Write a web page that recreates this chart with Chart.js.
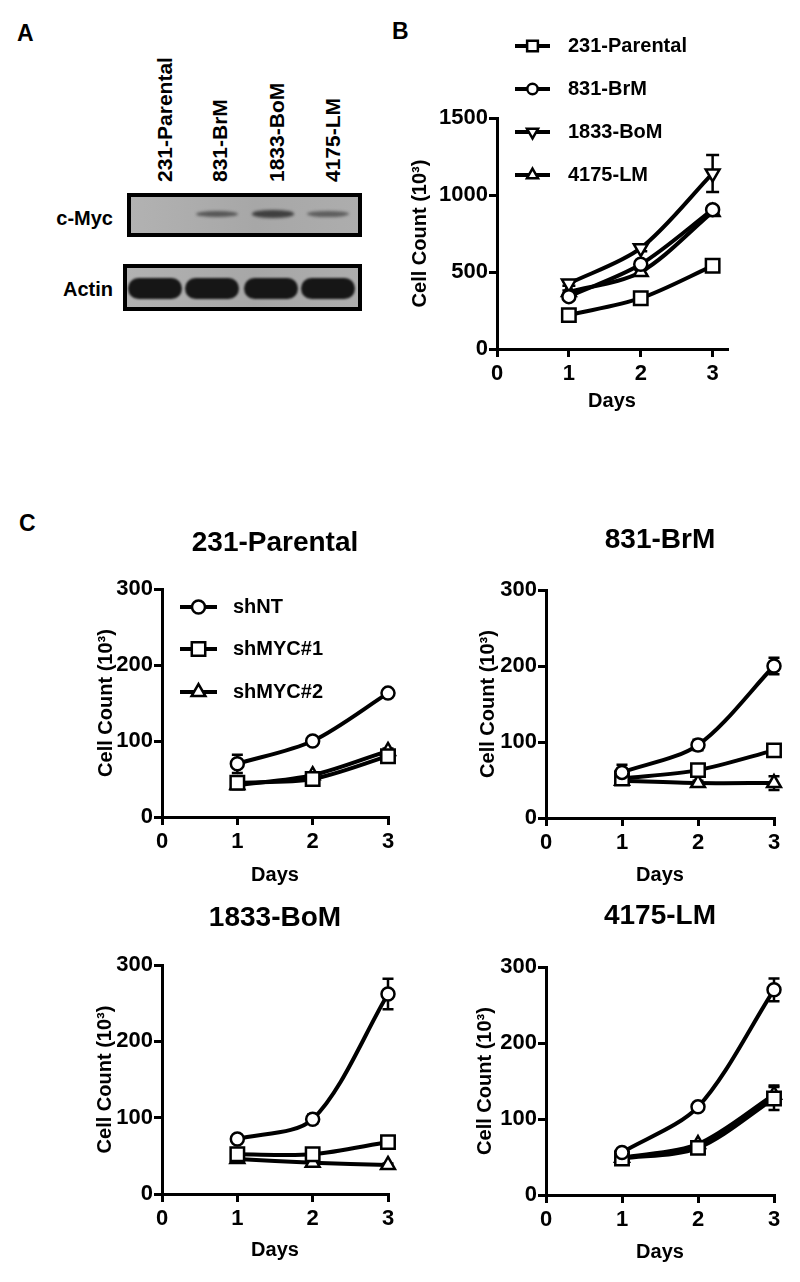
<!DOCTYPE html>
<html>
<head>
<meta charset="utf-8">
<script src="https://cdn.jsdelivr.net/npm/chart.js@4.4.1/dist/chart.umd.min.js"></script>
<style>
  html, body { margin: 0; padding: 0; background: #fff; }
  body { position: relative; width: 800px; height: 1282px; overflow: hidden;
         font-family: "Liberation Sans", Arial, sans-serif; font-weight: bold; color: #000; }
  .abs { position: absolute; }
  .letter { font-size: 23px; line-height: 23px; }
  .lane { font-size: 21px; line-height: 22px; white-space: nowrap; transform-origin: 0 0; transform: rotate(-90deg); }
  .row { font-size: 20px; line-height: 22px; width: 113px; text-align: right; left: 0; }
  .blot { box-sizing: border-box; border: 4px solid #000; background: linear-gradient(90deg, #b2b2b2, #a7a7a7 55%, #adadad); }
  .band { border-radius: 50%; }
  canvas { position: absolute; }
</style>
</head>
<body>
<div class="abs letter" style="left:17px;top:22px">A</div>
<div class="abs letter" style="left:392px;top:20px">B</div>
<div class="abs letter" style="left:19px;top:512px">C</div>
<div id="blot"></div>
<canvas id="chartB" width="420" height="420" style="left:380px;top:0"></canvas>
<canvas id="chartC1" width="400" height="385" style="left:0;top:510px"></canvas>
<canvas id="chartC2" width="400" height="385" style="left:400px;top:510px"></canvas>
<canvas id="chartC3" width="400" height="397" style="left:0;top:885px"></canvas>
<canvas id="chartC4" width="400" height="397" style="left:400px;top:885px"></canvas>
<script>
// ---- data ----
const days = [1, 2, 3];
const dayTicks = [0, 1, 2, 3];
const ticksB = [0, 500, 1000, 1500];
const ticksC = [0, 100, 200, 300];

// panel A: western blot (relative band strength per lane)
const blotLanes = ['231-Parental', '831-BrM', '1833-BoM', '4175-LM'];
const mycLevel = [0, 0.55, 0.85, 0.45];
const actinLevel = [1, 1, 1, 1];

// panel B: cell lines
const namesB = ['231-Parental', '831-BrM', '1833-BoM', '4175-LM'];
const parentalB = [220, 330, 540];
const brmB = [340, 550, 905];
const bomB = [425, 655, 1140];
const lmB = [370, 500, 890];
const parentalErrB = [10, 12, 15];
const brmErrB = [10, 15, 20];
const bomErrB = [15, 20, 120];
const lmErrB = [10, 15, 20];

// panel C: knockdowns
const namesC = ['shNT', 'shMYC#1', 'shMYC#2'];
const parentalNT = [70, 100, 163];
const parentalM1 = [45, 50, 80];
const parentalM2 = [42, 55, 87];
const parentalNTErr = [12, 3, 3];
const parentalM1Err = [8, 3, 3];
const parentalM2Err = [3, 3, 3];

const brmNT = [60, 96, 200];
const brmM1 = [52, 63, 89];
const brmM2 = [49, 46, 46];
const brmNTErr = [10, 7, 11];
const brmM1Err = [5, 3, 3];
const brmM2Err = [3, 3, 9];

const bomNT = [72, 98, 262];
const bomM1 = [52, 52, 68];
const bomM2 = [46, 41, 38];
const bomNTErr = [2, 6, 20];
const bomM1Err = [5, 3, 3];
const bomM2Err = [3, 3, 2];

const lmNT = [56, 116, 270];
const lmM1 = [48, 62, 127];
const lmM2 = [49, 67, 132];
const lmNTErr = [3, 3, 15];
const lmM1Err = [3, 3, 15];
const lmM2Err = [3, 3, 12];

// ---- blot ----
const blot = document.getElementById('blot');
function addDiv(cls, css, text) {
  const d = document.createElement('div');
  d.className = 'abs ' + cls;
  d.style.cssText = css;
  if (text) d.textContent = text;
  blot.appendChild(d);
  return d;
}
const labelX = [165, 220, 277, 333];
blotLanes.forEach((name, i) => addDiv('lane', `left:${labelX[i] - 11}px;top:182px`, name));
addDiv('row', 'top:207px', 'c-Myc');
addDiv('row', 'top:278px', 'Actin');
addDiv('blot', 'left:127px;top:193px;width:235px;height:44px');
addDiv('blot', 'left:123px;top:264px;width:239px;height:47px');
const mycX = [160, 217, 273, 328];
mycLevel.forEach((v, i) => {
  if (!v) return;
  const h = 4 + 4 * v;
  addDiv('band', `left:${mycX[i] - 21}px;top:${214 - h / 2}px;width:42px;height:${h}px;` +
    `background:rgba(45,45,45,${0.35 + 0.6 * v});filter:blur(1.6px)`);
});
const actinX = [155, 212, 271, 328];
actinLevel.forEach((v, i) => {
  addDiv('band', `left:${actinX[i] - 27}px;top:278px;width:54px;height:21px;border-radius:11px;` +
    `background:rgba(22,22,22,${v});filter:blur(1px)`);
});

// ---- charts ----
Chart.defaults.font.family = "'Liberation Sans', Arial, sans-serif";
Chart.defaults.font.weight = 'bold';
Chart.defaults.color = '#000';

const SQUARE = { shape: 'rect', radius: 9.5 };
const CIRCLE = { shape: 'circle', radius: 6.5 };
const TRI_UP = { shape: 'triangle', radius: 8 };
const TRI_DOWN = { shape: 'triangle', rotation: 180, radius: 8 };

function series(label, values, errors, style) {
  return {
    label,
    data: days.map((d, i) => ({ x: d, y: values[i] })),
    errors,
    borderColor: '#000', borderWidth: 4, tension: 0.3, clip: false,
    pointStyle: style.shape, pointRotation: style.rotation || 0,
    pointRadius: style.radius, pointHoverRadius: style.radius,
    pointBorderWidth: 2.5, pointBackgroundColor: '#fff', pointBorderColor: '#000'
  };
}

const errorBars = {
  id: 'errorBars',
  beforeDatasetsDraw(chart, args, opts) {
    const { ctx, scales: { x, y } } = chart;
    const cap = opts.cap || 5;
    ctx.save();
    ctx.strokeStyle = '#000';
    ctx.lineWidth = 2.5;
    chart.data.datasets.forEach(ds => {
      if (!ds.errors) return;
      ds.data.forEach((p, j) => {
        const e = ds.errors[j];
        if (!e) return;
        const px = x.getPixelForValue(p.x);
        const top = y.getPixelForValue(p.y + e);
        const bot = y.getPixelForValue(p.y - e);
        ctx.beginPath();
        ctx.moveTo(px, top); ctx.lineTo(px, bot);
        ctx.moveTo(px - cap, top); ctx.lineTo(px + cap, top);
        ctx.moveTo(px - cap, bot); ctx.lineTo(px + cap, bot);
        ctx.stroke();
      });
    });
    ctx.restore();
  }
};

const lineLegend = {
  id: 'lineLegend',
  afterDraw(chart, args, opts) {
    if (!opts.rows) return;
    const { ctx } = chart;
    ctx.save();
    chart.data.datasets.forEach((ds, i) => {
      const cy = opts.rows[i];
      ctx.strokeStyle = '#000';
      ctx.lineWidth = 4;
      ctx.beginPath();
      ctx.moveTo(opts.x, cy); ctx.lineTo(opts.x + opts.len, cy);
      ctx.stroke();
      ctx.fillStyle = '#fff';
      ctx.lineWidth = 2.5;
      Chart.helpers.drawPoint(ctx, {
        pointStyle: ds.pointStyle, rotation: ds.pointRotation,
        radius: ds.pointRadius * (opts.scale || 1), borderWidth: 2.5
      }, opts.x + opts.len / 2, cy);
      ctx.fillStyle = '#000';
      ctx.font = "bold 20px 'Liberation Sans', Arial, sans-serif";
      ctx.textBaseline = 'middle';
      ctx.fillText(ds.label, opts.x + opts.len + opts.gap, cy);
    });
    ctx.restore();
  }
};

function axisStyle() {
  return {
    grid: { display: true, drawOnChartArea: false, drawTicks: true, tickLength: 8, color: '#000', lineWidth: 3 },
    border: { display: true, color: '#000', width: 3 }
  };
}

function makeChart(id, geo, datasets, yTicks, xMax, title, legend) {
  return new Chart(document.getElementById(id), {
    type: 'line',
    data: { datasets },
    options: {
      responsive: false, animation: false, events: [],
      layout: { padding: { top: geo.padTop || 0, right: geo.padRight, left: 0, bottom: 0 } },
      scales: {
        x: Object.assign(axisStyle(), {
          type: 'linear', min: 0, max: xMax,
          afterBuildTicks: s => { s.ticks = dayTicks.map(v => ({ value: v })); },
          afterFit: s => { s.height = geo.xHeight; },
          ticks: { font: { size: 22 }, padding: 4, maxRotation: 0, callback: v => String(v) },
          title: { display: true, text: 'Days', font: { size: 20 }, padding: { top: 0, bottom: geo.daysPad } }
        }),
        y: Object.assign(axisStyle(), {
          type: 'linear', min: 0, max: yTicks[yTicks.length - 1],
          afterBuildTicks: s => { s.ticks = yTicks.map(v => ({ value: v })); },
          afterFit: s => { s.width = geo.yWidth; },
          ticks: { font: { size: 22 }, padding: 1, callback: v => String(v) },
          title: { display: true, text: 'Cell Count (10³)', font: { size: 20 }, padding: { top: geo.yTitlePad, bottom: 0 } }
        })
      },
      plugins: {
        legend: { display: false },
        tooltip: { enabled: false },
        title: title
          ? { display: true, text: title, fullSize: false, color: '#000', font: { size: 28 },
              padding: { top: geo.titleTop, bottom: geo.titleBottom } }
          : { display: false },
        errorBars: { cap: geo.cap },
        lineLegend: legend || {}
      }
    },
    plugins: [errorBars, lineLegend]
  });
}

// panel B
makeChart('chartB',
  { padTop: 118, padRight: 73, xHeight: 71, yWidth: 117, daysPad: 7, yTitlePad: 28, cap: 6.5 },
  [
    series(namesB[0], parentalB, parentalErrB, SQUARE),
    series(namesB[1], brmB, brmErrB, CIRCLE),
    series(namesB[2], bomB, bomErrB, TRI_DOWN),
    series(namesB[3], lmB, lmErrB, TRI_UP)
  ],
  ticksB, 3.2, null,
  { x: 135, len: 35, gap: 18, rows: [46, 89, 132, 175], scale: 0.8 });

function cSets(nt, m1, m2, ntErr, m1Err, m2Err) {
  return [
    series(namesC[0], nt, ntErr, CIRCLE),
    series(namesC[1], m1, m1Err, SQUARE),
    series(namesC[2], m2, m2Err, TRI_UP)
  ];
}

makeChart('chartC1',
  { padRight: 8, xHeight: 78, yWidth: 162, daysPad: 8, yTitlePad: 94, titleTop: 16.2, titleBottom: 29.2, cap: 5.5 },
  cSets(parentalNT, parentalM1, parentalM2, parentalNTErr, parentalM1Err, parentalM2Err),
  ticksC, 3, '231-Parental',
  { x: 180, len: 37, gap: 16, rows: [97, 139, 182], scale: 1 });

makeChart('chartC2',
  { padRight: 26, xHeight: 77, yWidth: 146, daysPad: 8, yTitlePad: 76, titleTop: 13.2, titleBottom: 33.2, cap: 5.5 },
  cSets(brmNT, brmM1, brmM2, brmNTErr, brmM1Err, brmM2Err),
  ticksC, 3, '831-BrM');

makeChart('chartC3',
  { padRight: 9, xHeight: 88, yWidth: 162, daysPad: 20, yTitlePad: 93, titleTop: 16.2, titleBottom: 30.2, cap: 5.5 },
  cSets(bomNT, bomM1, bomM2, bomNTErr, bomM1Err, bomM2Err),
  ticksC, 3, '1833-BoM');

makeChart('chartC4',
  { padRight: 26, xHeight: 87, yWidth: 146, daysPad: 18, yTitlePad: 73, titleTop: 14.2, titleBottom: 34.2, cap: 5.5 },
  cSets(lmNT, lmM1, lmM2, lmNTErr, lmM1Err, lmM2Err),
  ticksC, 3, '4175-LM');
</script>
</body>
</html>
